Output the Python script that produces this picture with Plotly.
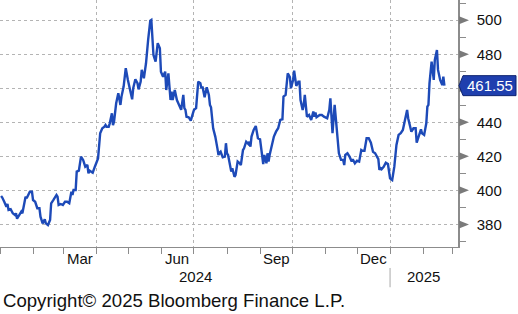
import plotly.graph_objects as go

# ---- data ----
dates = [
    "2024-01-02", "2024-01-03", "2024-01-05", "2024-01-07", "2024-01-08", "2024-01-09", "2024-01-11",
    "2024-01-13", "2024-01-15", "2024-01-16", "2024-01-17", "2024-01-19", "2024-01-21", "2024-01-22",
    "2024-01-24", "2024-01-25", "2024-01-26", "2024-01-29", "2024-01-31", "2024-02-01", "2024-02-03",
    "2024-02-05", "2024-02-07", "2024-02-08", "2024-02-10", "2024-02-12", "2024-02-13", "2024-02-15",
    "2024-02-17", "2024-02-18", "2024-02-20", "2024-02-23", "2024-02-24", "2024-02-25", "2024-02-27",
    "2024-02-29", "2024-03-02", "2024-03-04", "2024-03-06", "2024-03-08", "2024-03-09", "2024-03-10",
    "2024-03-12", "2024-03-13", "2024-03-15", "2024-03-17", "2024-03-19", "2024-03-21", "2024-03-23",
    "2024-03-24", "2024-03-25", "2024-03-28", "2024-03-30", "2024-04-01", "2024-04-02", "2024-04-04",
    "2024-04-06", "2024-04-08", "2024-04-09", "2024-04-10", "2024-04-12", "2024-04-13", "2024-04-15",
    "2024-04-16", "2024-04-17", "2024-04-19", "2024-04-21", "2024-04-23", "2024-04-24", "2024-04-26",
    "2024-04-28", "2024-04-30", "2024-05-02", "2024-05-04", "2024-05-05", "2024-05-07", "2024-05-09",
    "2024-05-10", "2024-05-12", "2024-05-13", "2024-05-15", "2024-05-17", "2024-05-19", "2024-05-21",
    "2024-05-22", "2024-05-24", "2024-05-25", "2024-05-26", "2024-05-28", "2024-05-30", "2024-05-31",
    "2024-06-02", "2024-06-04", "2024-06-05", "2024-06-06", "2024-06-07", "2024-06-09", "2024-06-10",
    "2024-06-11", "2024-06-13", "2024-06-15", "2024-06-17", "2024-06-19", "2024-06-21", "2024-06-22",
    "2024-06-23", "2024-06-24", "2024-06-26", "2024-06-28", "2024-06-30", "2024-07-01", "2024-07-03",
    "2024-07-05", "2024-07-07", "2024-07-08", "2024-07-09", "2024-07-11", "2024-07-13", "2024-07-15",
    "2024-07-16", "2024-07-17", "2024-07-19", "2024-07-21", "2024-07-23", "2024-07-24", "2024-07-25",
    "2024-07-26", "2024-07-28", "2024-07-30", "2024-07-31", "2024-08-01", "2024-08-02", "2024-08-04",
    "2024-08-05", "2024-08-06", "2024-08-08", "2024-08-09", "2024-08-11", "2024-08-13", "2024-08-14",
    "2024-08-16", "2024-08-17", "2024-08-19", "2024-08-21", "2024-08-22", "2024-08-23", "2024-08-24",
    "2024-08-26", "2024-08-28", "2024-08-30", "2024-09-01", "2024-09-03", "2024-09-04", "2024-09-05",
    "2024-09-07", "2024-09-08", "2024-09-09", "2024-09-10", "2024-09-12", "2024-09-14", "2024-09-16",
    "2024-09-18", "2024-09-20", "2024-09-22", "2024-09-23", "2024-09-25", "2024-09-27", "2024-09-29",
    "2024-09-30", "2024-10-02", "2024-10-03", "2024-10-05", "2024-10-07", "2024-10-08", "2024-10-09",
    "2024-10-11", "2024-10-12", "2024-10-13", "2024-10-15", "2024-10-17", "2024-10-19", "2024-10-21",
    "2024-10-22", "2024-10-23", "2024-10-24", "2024-10-27", "2024-10-29", "2024-10-31", "2024-11-03",
    "2024-11-05", "2024-11-06", "2024-11-07", "2024-11-08", "2024-11-10", "2024-11-12", "2024-11-13",
    "2024-11-14", "2024-11-16", "2024-11-18", "2024-11-19", "2024-11-20", "2024-11-22", "2024-11-24",
    "2024-11-26", "2024-11-27", "2024-11-29", "2024-12-01", "2024-12-03", "2024-12-05", "2024-12-06",
    "2024-12-08", "2024-12-10", "2024-12-12", "2024-12-14", "2024-12-16", "2024-12-18", "2024-12-20",
    "2024-12-21", "2024-12-22", "2024-12-23", "2024-12-24", "2024-12-26", "2024-12-28", "2024-12-30",
    "2025-01-01", "2025-01-03", "2025-01-05", "2025-01-06", "2025-01-07", "2025-01-09", "2025-01-11",
    "2025-01-13", "2025-01-15", "2025-01-17", "2025-01-18", "2025-01-20", "2025-01-21", "2025-01-23",
    "2025-01-25", "2025-01-26", "2025-01-28", "2025-01-30", "2025-01-31", "2025-02-02", "2025-02-04",
    "2025-02-05", "2025-02-06", "2025-02-07", "2025-02-09", "2025-02-11", "2025-02-12", "2025-02-14",
    "2025-02-15", "2025-02-17", "2025-02-19", "2025-02-20", "2025-02-21",
]
values = [
    396.7, 395.9, 393.3, 390.4, 392.0, 388.5, 388.9,
    386.5, 385.5, 386.5, 383.3, 385.5, 387.5, 386.5,
    394.3, 396.3, 395.3, 399.2, 399.2, 394.3, 393.3,
    389.5, 389.5, 384.5, 380.6, 383.0, 380.6, 379.6,
    382.6, 392.4, 394.3, 397.3, 396.3, 391.4, 392.0,
    391.4, 393.3, 393.3, 392.4, 399.2, 397.3, 400.2,
    400.2, 411.0, 411.6, 419.8, 417.9, 413.9, 414.9,
    410.0, 411.6, 410.4, 413.9, 416.9, 418.8, 433.6,
    436.5, 437.4, 438.4, 437.4, 437.4, 439.4, 445.3,
    438.4, 440.4, 451.2, 457.1, 450.2, 455.1, 461.0,
    471.8, 464.9, 459.0, 453.5, 460.0, 465.3, 463.0,
    459.4, 463.9, 470.8, 465.9, 474.7, 488.4, 499.8,
    500.2, 479.6, 477.6, 475.7, 486.5, 483.5, 469.8,
    466.8, 469.8, 459.0, 463.9, 468.8, 453.1, 458.0,
    453.1, 459.0, 453.1, 450.2, 447.3, 456.1, 448.3,
    447.3, 443.3, 443.0, 441.0, 445.3, 447.3, 448.3,
    463.9, 463.0, 460.0, 461.0, 454.7, 460.6, 456.1,
    450.2, 448.8, 436.5, 431.6, 424.7, 420.8, 422.1,
    422.7, 419.4, 419.8, 427.7, 421.8, 420.8, 413.9,
    411.0, 413.0, 408.0, 409.0, 416.9, 415.9, 414.9,
    423.7, 424.7, 428.6, 427.3, 428.6, 425.7, 431.6,
    435.5, 437.8, 430.6, 430.0, 417.9, 415.5, 420.8,
    415.9, 421.8, 416.9, 420.8, 425.7, 431.6, 434.5,
    436.5, 441.4, 441.8, 455.1, 456.1, 468.8, 466.5,
    460.0, 464.9, 470.4, 461.4, 463.9, 463.9, 453.1,
    447.3, 450.2, 456.1, 443.3, 444.3, 441.4, 446.3,
    443.3, 445.7, 443.0, 444.3, 444.3, 443.3, 442.4,
    447.3, 454.1, 445.3, 433.6, 450.2, 436.5, 431.6,
    421.8, 417.9, 417.9, 414.9, 420.8, 421.8, 419.8,
    416.9, 418.3, 415.9, 417.4, 416.9, 423.7, 423.3,
    423.3, 430.6, 430.6, 428.0, 422.7, 421.8, 418.8,
    418.3, 412.0, 413.0, 412.4, 413.9, 416.3, 415.5,
    407.1, 406.1, 413.9, 420.8, 426.7, 432.6, 433.6,
    435.5, 441.4, 447.3, 442.4, 437.4, 434.5, 436.5,
    436.5, 428.0, 431.6, 435.9, 433.6, 432.6, 439.4,
    449.2, 450.2, 462.9, 475.7, 464.9, 476.7, 482.5,
    470.8, 464.9, 461.9, 466.8, 461.55,
]
last_value = 461.55
y_ticks = [380, 400, 420, 440, 460, 480, 500]
month_labels = ["Mar", "Jun", "Sep", "Dec"]
month_label_dates = ["2024-03-16", "2024-06-15", "2024-09-16", "2024-12-16"]
year_labels = ["2024", "2025"]
year_label_dates = ["2024-07-02", "2025-02-01"]
year_break = "2025-01-01"
copyright_text = "Copyright\u00a9 2025 Bloomberg Finance L.P."

# ---- styles ----
LINE = "#1d4ab8"
GRID = "#b4b4b4"
AXIS = "#8c8c8c"
FONT = "Liberation Sans"
TXT = "#111111"

# the value tag hides the tick label that sits under it
y_ticktext = ["" if abs(v - last_value) < 6 else str(v) for v in y_ticks]

fig = go.Figure()
fig.add_trace(go.Scatter(
    x=dates, y=values, mode="lines",
    line=dict(color=LINE, width=2.4), hoverinfo="skip", showlegend=False,
))

fig.update_layout(
    width=518, height=314,
    margin=dict(l=0, r=60, t=0, b=67, autoexpand=False),
    paper_bgcolor="white", plot_bgcolor="white",
    showlegend=False,
    font=dict(family=FONT, size=14, color=TXT),
)

fig.update_xaxes(
    type="date",
    range=["2024-01-01", "2025-03-05 18:00"],
    tickmode="linear", tick0="2024-01-01", dtick="M3",
    showticklabels=False,
    ticks="outside", ticklen=6, tickcolor=AXIS, tickwidth=1,
    showgrid=True, gridcolor=GRID, griddash="dot", gridwidth=1,
    minor=dict(tickmode="linear", tick0="2024-01-01", dtick="M1",
               ticks="outside", ticklen=6, tickcolor=AXIS, showgrid=False),
    showline=True, linecolor=AXIS, linewidth=1,
    zeroline=False, fixedrange=True,
)

fig.update_yaxes(
    side="right",
    range=[366.7, 511.9],
    tickmode="array", tickvals=y_ticks, ticktext=y_ticktext,
    ticks="outside", ticklen=10, tickcolor="rgba(0,0,0,0)",
    ticklabelstandoff=4,
    tickfont=dict(family=FONT, size=15, color=TXT),
    showgrid=True, gridcolor=GRID, griddash="dot", gridwidth=1,
    minor=dict(tickmode="linear", tick0=370, dtick=20,
               ticks="outside", ticklen=6, tickcolor=AXIS, showgrid=False),
    showline=True, linecolor=AXIS, linewidth=1.5,
    zeroline=False, fixedrange=True,
)

shapes = []
# triangle tick markers at major y ticks
for v in y_ticks:
    shapes.append(dict(
        type="path", xref="paper", yref="y",
        xsizemode="pixel", ysizemode="pixel", xanchor=1, yanchor=v,
        path="M1,-4 L11,0 L1,4 Z",
        fillcolor="#7a7a7a", line=dict(width=0),
    ))
# last value tag
shapes.append(dict(
    type="path", xref="paper", yref="y",
    xsizemode="pixel", ysizemode="pixel", xanchor=1, yanchor=last_value,
    path="M1,0 L5,-10 L58,-10 L58,10 L5,10 Z",
    fillcolor="#1f3fae", line=dict(color="#0e2370", width=1),
))
# year separator
shapes.append(dict(
    type="line", xref="x", yref="paper",
    x0=year_break, x1=year_break, y0=-0.085, y1=-0.163,
    line=dict(color="#a8a8a8", width=1),
))

annotations = []
annotations.append(dict(
    xref="paper", yref="y", x=1, y=last_value, xshift=32,
    text=f"{last_value:.2f}", showarrow=False,
    font=dict(family=FONT, size=15, color="white"),
    xanchor="center", yanchor="middle",
))
for lab, d in zip(month_labels, month_label_dates):
    annotations.append(dict(
        xref="x", yref="paper", x=d, y=-0.047, text=lab, showarrow=False,
        font=dict(family=FONT, size=15, color=TXT), xanchor="center", yanchor="middle",
    ))
for lab, d in zip(year_labels, year_label_dates):
    annotations.append(dict(
        xref="x", yref="paper", x=d, y=-0.12, text=lab, showarrow=False,
        font=dict(family=FONT, size=15, color=TXT), xanchor="center", yanchor="middle",
    ))
annotations.append(dict(
    xref="paper", yref="paper", x=0.002, y=-0.215, text=copyright_text, showarrow=False,
    font=dict(family=FONT, size=18.6, color=TXT), xanchor="left", yanchor="middle",
))

fig.update_layout(shapes=shapes, annotations=annotations)
fig.write_html("out.html")
